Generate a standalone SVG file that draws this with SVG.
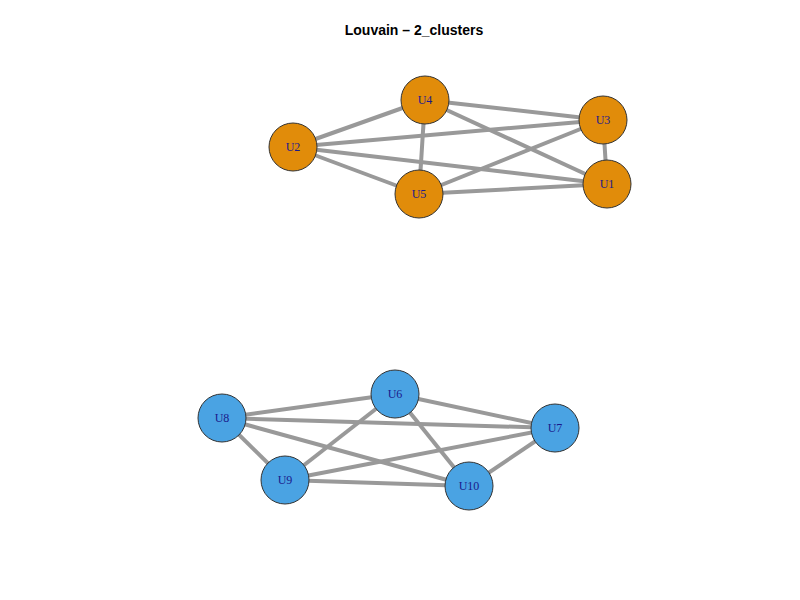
<svg xmlns="http://www.w3.org/2000/svg" width="800" height="600" viewBox="0 0 800 600">
<style>
.e{stroke:#999999;stroke-width:4;fill:none}
.n circle{stroke:#333333;stroke-width:1}
.a circle{fill:#E18C0A}
.b circle{fill:#4AA3E3}
.n text{font-family:"Liberation Serif",serif;font-size:12px;fill:#1a1a8c;text-anchor:middle;dominant-baseline:central}
.t{font-family:"Liberation Sans",Arial,sans-serif;font-size:14px;font-weight:bold;text-anchor:middle}
</style>
<rect width="800" height="600" fill="#ffffff"/>
<text class="t" x="414" y="35">Louvain – 2_clusters</text>
<g id="connectors">
<line class="e" x1="293" y1="147" x2="425" y2="100"/>
<line class="e" x1="293" y1="147" x2="603" y2="120"/>
<line class="e" x1="293" y1="147" x2="607" y2="184"/>
<line class="e" x1="293" y1="147" x2="419" y2="194"/>
<line class="e" x1="425" y1="100" x2="603" y2="120"/>
<line class="e" x1="425" y1="100" x2="607" y2="184"/>
<line class="e" x1="425" y1="100" x2="419" y2="194"/>
<line class="e" x1="419" y1="194" x2="603" y2="120"/>
<line class="e" x1="419" y1="194" x2="607" y2="184"/>
<line class="e" x1="603" y1="120" x2="607" y2="184"/>
<line class="e" x1="222" y1="418" x2="395" y2="394"/>
<line class="e" x1="222" y1="418" x2="555" y2="428"/>
<line class="e" x1="222" y1="418" x2="469" y2="486"/>
<line class="e" x1="222" y1="418" x2="285" y2="480"/>
<line class="e" x1="395" y1="394" x2="285" y2="480"/>
<line class="e" x1="395" y1="394" x2="555" y2="428"/>
<line class="e" x1="395" y1="394" x2="469" y2="486"/>
<line class="e" x1="285" y1="480" x2="555" y2="428"/>
<line class="e" x1="285" y1="480" x2="469" y2="486"/>
<line class="e" x1="469" y1="486" x2="555" y2="428"/>
</g>
<g id="U1" class="n a"><circle cx="607" cy="184" r="24"/><text x="607" y="184">U1</text></g>
<g id="U2" class="n a"><circle cx="293" cy="147" r="24"/><text x="293" y="147">U2</text></g>
<g id="U3" class="n a"><circle cx="603" cy="120" r="24"/><text x="603" y="120">U3</text></g>
<g id="U4" class="n a"><circle cx="425" cy="100" r="24"/><text x="425" y="100">U4</text></g>
<g id="U5" class="n a"><circle cx="419" cy="194" r="24"/><text x="419" y="194">U5</text></g>
<g id="U6" class="n b"><circle cx="395" cy="394" r="24"/><text x="395" y="394">U6</text></g>
<g id="U7" class="n b"><circle cx="555" cy="428" r="24"/><text x="555" y="428">U7</text></g>
<g id="U8" class="n b"><circle cx="222" cy="418" r="24"/><text x="222" y="418">U8</text></g>
<g id="U9" class="n b"><circle cx="285" cy="480" r="24"/><text x="285" y="480">U9</text></g>
<g id="U10" class="n b"><circle cx="469" cy="486" r="24"/><text x="469" y="486">U10</text></g>
</svg>
